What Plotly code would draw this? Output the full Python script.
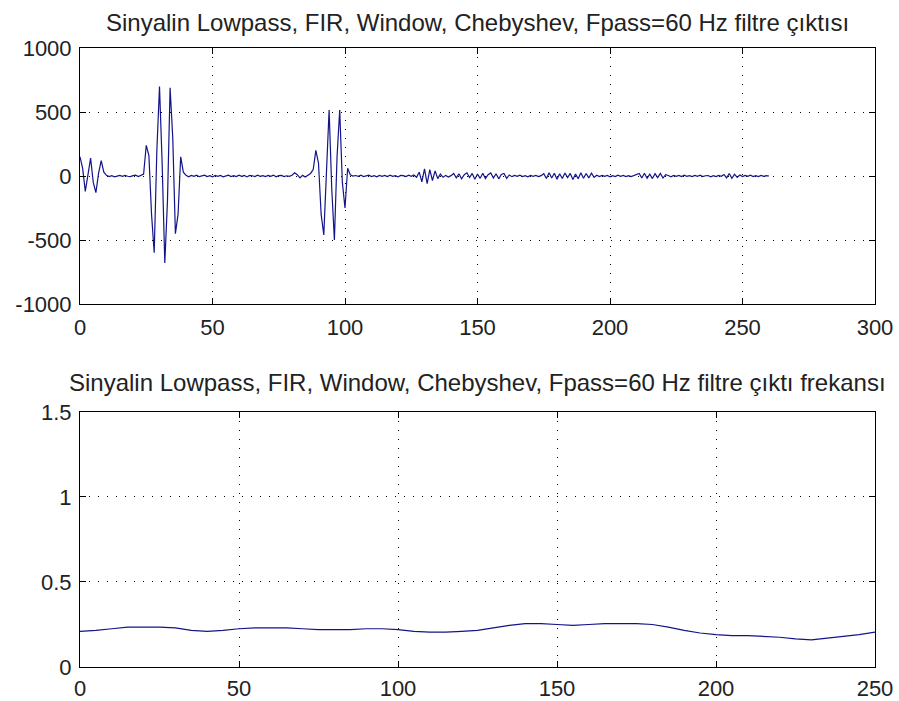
import plotly.graph_objects as go
from plotly.subplots import make_subplots

# Filtered time-domain output (one value per sample)
filtre_cikti = [
    150, 60, -120, 30, 140, -50, -130, 20, 120, 30, 5,
    -4, 3, -6, 2, 5, -3, 4, -2, -5, 3, 6, -4, 8, 15,
    240, 160, -300, -600, 200, 700, 100, -680, -200, 690, 300, -450, -300, 150, 30, 5,
    -6, 4, -3, 7, -5, 2, 6, -4, 3, -7,
    5, -2, 4, -6, 3, 7, -4, 2, -5, 6,
    -3, 4, -7, 5, 2, -4, 6, -3, 3, -5,
    4, -2, 7, -6, 3, 5, -4, 2, -3, 6,
    25, 10, -15, 5, -8, 6, 20,
    50, 200, 100, -300, -460, 100, 515, -100, -500, 150, 515, -50, -250, 60, 10, 0,
    4, -3, 6, -5, 2, 7, -4, 3, -6, 5,
    -2, 4, -5, 6, -3, 2, -7, 5, 3, -4,
    6, -2, 8, -10,
    30, -45, 55, -60, 50, -35, 40, -20, 15, -10,
    5, -8, 3, 20, -15, 18, -22, 10, 25, -12,
    20, -25, 15, -18, 22, -20, 10, 24, -15, 18,
    -22, 12, 20, -18, 8, -5, 4, -3, 6, -4,
    3, -6, 5, -2, 4, -5, 3, 18, -20, 25,
    -15, 22, -25, 18, -20, 24, -12, 20, -28, 15,
    -22, 25, -18, 20, -15, 22, -10, 6, -4, 5,
    -3, 4, -6, 3, -5, 6, -2, 4, -5, 3,
    -4, 6, 12, 20, -15, 22, -18, 14, -20, 18,
    -12, 20, -16, 10, 4, -6, 5, -3, 4, -5,
    6, -2, 3, -4, 5, -3, 6, -5, 2, 4,
    -6, 3, -4, 5, -2, 12, -15, 20, -18, 14,
    -10, 8, -4, 5, -3, 6, -5, 3, -4, 4,
    -2, 3, 0,
]
ornek = list(range(len(filtre_cikti)))

# Frequency content of the filtered output
frekans_x = list(range(0, 251, 5))
frekans_y = [
    0.21, 0.215, 0.225, 0.235, 0.235, 0.235, 0.23, 0.215, 0.21, 0.215,
    0.225, 0.23, 0.23, 0.23, 0.225, 0.22, 0.22, 0.22, 0.225, 0.225,
    0.22, 0.21, 0.205, 0.205, 0.21, 0.215, 0.23, 0.245, 0.255, 0.255,
    0.25, 0.245, 0.25, 0.255, 0.255, 0.255, 0.25, 0.235, 0.215, 0.2,
    0.19, 0.185, 0.185, 0.18, 0.175, 0.165, 0.16, 0.17, 0.18, 0.19,
    0.205,
]

baslik1 = "Sinyalin Lowpass, FIR, Window, Chebyshev, Fpass=60 Hz filtre çıktısı"
baslik2 = "Sinyalin Lowpass, FIR, Window, Chebyshev, Fpass=60 Hz filtre çıktı frekansı"

x1_ticks = [0, 50, 100, 150, 200, 250, 300]
y1_ticks = [-1000, -500, 0, 500, 1000]
y1_labels = ["-1000", "-500", "0", "500", "1000"]
x2_ticks = [0, 50, 100, 150, 200, 250]
y2_ticks = [0, 0.5, 1, 1.5]
y2_labels = ["0", "0.5", "1", "1.5"]

LINE = "#14148a"
FONT = "Liberation Sans, Arial, sans-serif"

fig = make_subplots(rows=2, cols=1, vertical_spacing=0.0)

fig.add_trace(go.Scatter(x=ornek, y=filtre_cikti, mode="lines",
                         line=dict(color=LINE, width=1.2), showlegend=False),
              row=1, col=1)
fig.add_trace(go.Scatter(x=frekans_x, y=frekans_y, mode="lines",
                         line=dict(color=LINE, width=1.2), showlegend=False),
              row=2, col=1)

axis_style = dict(
    showline=True, linecolor="black", linewidth=1, mirror="ticks",
    ticks="inside", ticklen=6, tickcolor="black", tickwidth=1,
    showgrid=True, gridcolor="black", gridwidth=1, griddash="1px,8px",
    zeroline=False, automargin=False,
    tickfont=dict(family=FONT, size=22, color="#222"),
)

fig.update_xaxes(**axis_style)
fig.update_yaxes(**axis_style)

fig.update_xaxes(range=[0, 300], tickvals=x1_ticks, ticklabelstandoff=4, row=1, col=1)
fig.update_yaxes(range=[-1000, 1000], tickvals=y1_ticks, ticktext=y1_labels,
                 ticklabelstandoff=3, row=1, col=1)
fig.update_xaxes(range=[0, 250], tickvals=x2_ticks, ticklabelstandoff=2, row=2, col=1)
fig.update_yaxes(range=[0, 1.5], tickvals=y2_ticks, ticktext=y2_labels,
                 ticklabelstandoff=3, row=2, col=1)

fig.update_layout(
    xaxis=dict(domain=[0, 1]), xaxis2=dict(domain=[0, 1]),
    yaxis=dict(domain=[0.5864, 1.0]), yaxis2=dict(domain=[0.0, 0.412]),
)

fig.add_annotation(text=baslik1, xref="paper", yref="paper", x=0.5, y=1.0,
                   yanchor="middle", yshift=26, showarrow=False,
                   font=dict(family=FONT, size=24, color="#222"))
fig.add_annotation(text=baslik2, xref="paper", yref="paper", x=0.5, y=0.412,
                   yanchor="middle", yshift=29, showarrow=False,
                   font=dict(family=FONT, size=24, color="#222"))

fig.update_layout(
    width=899, height=701,
    margin=dict(l=80, r=24, t=48, b=34),
    paper_bgcolor="white", plot_bgcolor="white",
)

fig.write_html("out.html")
